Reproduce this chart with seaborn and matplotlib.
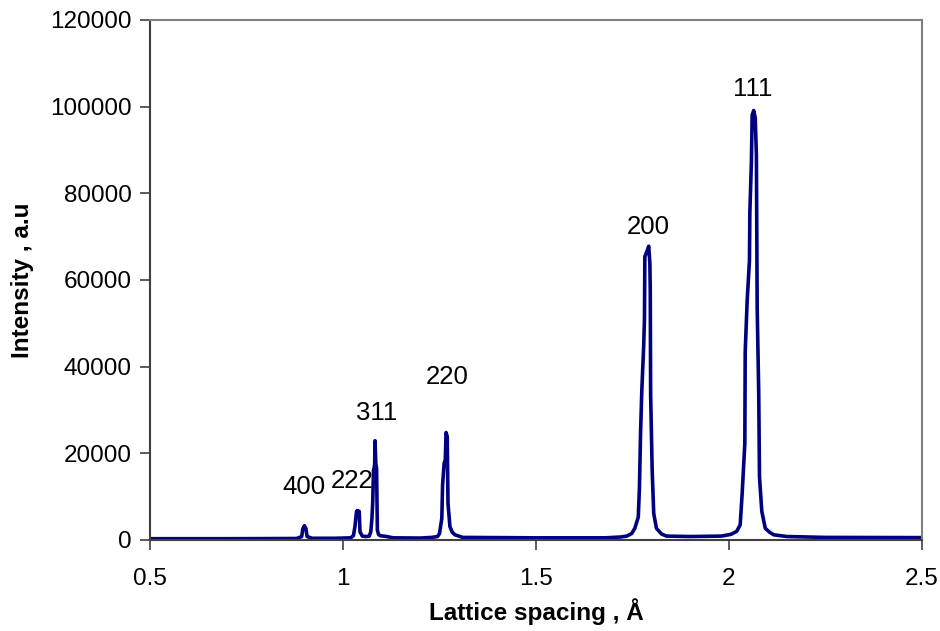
import matplotlib
matplotlib.use("Agg")
import matplotlib.pyplot as plt
import seaborn as sns
import numpy as np
import pandas as pd

# Lattice spacing (Å) and intensity (a.u.)
d_spacing = [0.50, 0.70, 0.88, 0.893, 0.896, 0.900, 0.904, 0.907, 0.92, 0.98,
             1.020, 1.027, 1.031, 1.035, 1.037, 1.040, 1.042, 1.044, 1.050, 1.060,
             1.068, 1.072, 1.075, 1.077, 1.079, 1.080, 1.082, 1.083, 1.085, 1.087,
             1.089, 1.092, 1.096, 1.105, 1.113, 1.13, 1.20,
             1.230, 1.245, 1.250, 1.256, 1.258, 1.262, 1.265, 1.267, 1.270, 1.272,
             1.277, 1.283, 1.290, 1.31, 1.50, 1.68, 1.72,
             1.735, 1.748, 1.756, 1.765, 1.768, 1.771, 1.774, 1.779, 1.781, 1.782,
             1.789, 1.792, 1.795, 1.796, 1.797, 1.801, 1.805, 1.812, 1.825, 1.838,
             1.90, 1.98, 2.005, 2.020, 2.029, 2.034, 2.041, 2.042, 2.047, 2.053,
             2.054, 2.058, 2.060, 2.064, 2.068, 2.071, 2.073, 2.077, 2.079, 2.085,
             2.094, 2.105, 2.116, 2.15, 2.25, 2.50]
intensity = [300, 300, 350, 800, 2600, 3300, 2600, 800, 400, 400,
             500, 1000, 3100, 6600, 6800, 6700, 6600, 1900, 900, 800,
             900, 1900, 5000, 8800, 16100, 16200, 17500, 22900, 17600, 16500,
             2300, 1300, 1000, 900, 800, 500, 450,
             600, 800, 1500, 5000, 12700, 17700, 18500, 24800, 23900, 8500,
             3100, 1800, 1200, 600, 500, 500, 700,
             900, 1500, 2700, 5300, 12200, 25100, 34200, 44900, 51000, 65400,
             67000, 67800, 63900, 57800, 33500, 16000, 6100, 2700, 1400, 900,
             800, 900, 1300, 2000, 3500, 10600, 22300, 43400, 55100, 64500,
             75500, 87200, 98100, 99100, 97400, 88800, 53600, 34000, 14500, 6600,
             2700, 1800, 1200, 800, 600, 550]

peak_labels = ["400", "222", "311", "220", "200", "111"]
label_x = [0.899, 1.024, 1.088, 1.269, 1.790, 2.062]
label_y = [12300, 13700, 29300, 37600, 72300, 104100]

df = pd.DataFrame({"d": d_spacing, "I": intensity})

sns.set_theme(style="white")
plt.rcParams["font.family"] = ["Liberation Sans", "DejaVu Sans"]

fig = plt.figure(figsize=(9.4, 6.31), dpi=100)
ax = fig.add_axes([150/940, 91/631, 772/940, 520/631])

sns.lineplot(data=df, x="d", y="I", ax=ax, color="#000080", linewidth=2.6,
             sort=False, estimator=None)

for t, x, y in zip(peak_labels, label_x, label_y):
    ax.text(x, y, t, ha="center", va="center", fontsize=18.5, color="black")

ax.set_xlim(0.5, 2.5)
ax.set_ylim(0, 120000)
ax.set_xticks([0.5, 1, 1.5, 2, 2.5])
ax.set_xticklabels(["0.5", "1", "1.5", "2", "2.5"])
ax.set_yticks(np.arange(0, 120001, 20000))
ax.set_yticklabels([str(v) for v in range(0, 120001, 20000)])

ax.set_xlabel("Lattice spacing , Å", fontsize=17.5, fontweight="bold",
              labelpad=6, color="black")
ax.set_ylabel("Intensity , a.u", fontsize=17.5, fontweight="bold",
              labelpad=12, color="black")

ax.tick_params(axis="both", labelsize=17.5, labelcolor="black", direction="out",
               length=7, width=1.2, color="#404040", bottom=True, left=True)
ax.tick_params(axis="x", pad=13)
ax.tick_params(axis="y", pad=6)

for side in ["left", "bottom"]:
    ax.spines[side].set_color("#404040")
    ax.spines[side].set_linewidth(1.5)
for side in ["top", "right"]:
    ax.spines[side].set_color("#808080")
    ax.spines[side].set_linewidth(1.5)

fig.savefig("out.png", dpi=100)
